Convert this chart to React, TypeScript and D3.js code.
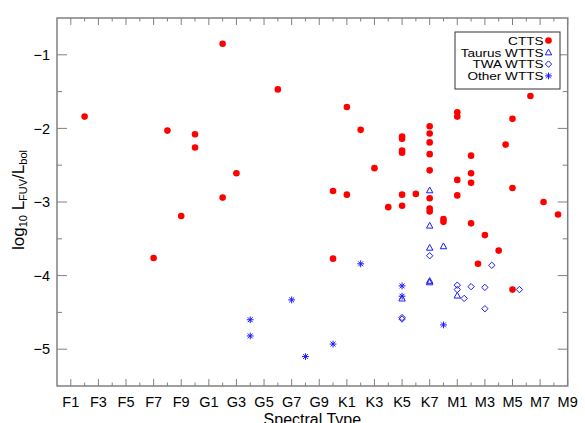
import React, { useEffect, useRef } from 'react';
import * as d3 from 'd3';

// spectral type labels along the bottom axis
const majorTypes = ['F1', 'F3', 'F5', 'F7', 'F9', 'G1', 'G3', 'G5', 'G7', 'G9', 'K1', 'K3', 'K5', 'K7', 'M1', 'M3', 'M5', 'M7', 'M9'];
const minorTypes = ['F2', 'F4', 'F6', 'F8', 'G0', 'G2', 'G4', 'G6', 'G8', 'K0', 'K2', 'K4', 'K6', 'M0', 'M2', 'M4', 'M6', 'M8'];
const yMajor = [-5, -4, -3, -2, -1];
const yMinor = [-4.5, -3.5, -2.5, -1.5];

// [spectral type, log10 LFUV/Lbol]
const cttsPoints: [string, number][] = [
  ['F2', -1.84], ['F7', -3.76], ['F8', -2.03], ['F9', -3.19], ['G0', -2.08], ['G0', -2.26],
  ['G2', -0.85], ['G2', -2.94], ['G3', -2.61], ['G6', -1.47], ['K0', -2.85], ['K0', -3.77],
  ['K1', -1.71], ['K1', -2.90], ['K2', -2.02], ['K3', -2.54], ['K4', -3.07],
  ['K5', -2.11], ['K5', -2.14], ['K5', -2.30], ['K5', -2.33], ['K5', -2.90], ['K5', -3.05],
  ['K6', -2.89], ['K7', -1.97], ['K7', -2.07], ['K7', -2.19], ['K7', -2.35], ['K7', -2.57],
  ['K7', -2.95], ['K7', -3.09], ['K7', -3.13], ['M0', -3.23], ['M0', -3.27],
  ['M1', -1.78], ['M1', -1.84], ['M1', -2.70], ['M1', -2.91], ['M2', -2.37], ['M2', -2.61],
  ['M2', -2.74], ['M2', -3.29], ['M2.5', -3.84], ['M3', -3.45], ['M4', -3.66], ['M4.5', -2.22],
  ['M5', -1.87], ['M5', -2.81], ['M5', -4.19], ['M6.3', -1.56], ['M7.25', -3.00], ['M8.3', -3.17],
];
const taurusPoints: [string, number][] = [
  ['K5', -4.31], ['K7', -2.84], ['K7', -3.32], ['K7', -3.62], ['K7', -4.07], ['K7', -4.09],
  ['M0', -3.60], ['M1', -4.27],
];
const twaPoints: [string, number][] = [
  ['K5', -4.57], ['K5', -4.59], ['K7', -3.73], ['M1', -4.13], ['M1', -4.19], ['M1.5', -4.31],
  ['M2', -4.15], ['M3', -4.16], ['M3', -4.45], ['M3.5', -3.86], ['M5.5', -4.19],
];
const otherPoints: [string, number][] = [
  ['G4', -4.60], ['G4', -4.82], ['G7', -4.33], ['G8', -5.10], ['K0', -4.93], ['K2', -3.84],
  ['K5', -4.14], ['K5', -4.28], ['M0', -4.67],
];

const legendItems = ['CTTS', 'Taurus WTTS', 'TWA WTTS', 'Other WTTS'];

const classStart: Record<string, number> = { F: 0, G: 10, K: 20, M: 28 };
const sptValue = (s: string) => classStart[s[0]] + parseFloat(s.slice(1));

const RED = '#ff0000';
const BLUE = '#1a1aff';
const AXIS = '#808080';

type Sel = d3.Selection<SVGGElement, unknown, null, undefined>;

function drawMarker(g: Sel, kind: string, cx: number, cy: number) {
  if (kind === 'CTTS') {
    g.append('circle').attr('cx', cx).attr('cy', cy).attr('r', 3.3).attr('fill', RED);
  } else if (kind === 'Taurus WTTS') {
    const s = 3.2;
    g.append('path')
      .attr('d', `M${cx},${cy - s}L${cx + s},${cy + s * 0.8}L${cx - s},${cy + s * 0.8}Z`)
      .attr('fill', 'none').attr('stroke', BLUE).attr('stroke-width', 1);
  } else if (kind === 'TWA WTTS') {
    const s = 3.2;
    g.append('path')
      .attr('d', `M${cx},${cy - s}L${cx + s},${cy}L${cx},${cy + s}L${cx - s},${cy}Z`)
      .attr('fill', 'none').attr('stroke', BLUE).attr('stroke-width', 1);
  } else {
    const s = 3.4;
    const d = s * 0.72;
    g.append('path')
      .attr('d', `M${cx},${cy - s}V${cy + s}M${cx - s},${cy}H${cx + s}M${cx - d},${cy - d}L${cx + d},${cy + d}M${cx - d},${cy + d}L${cx + d},${cy - d}`)
      .attr('stroke', BLUE).attr('stroke-width', 1).attr('fill', 'none');
  }
}

export default function App() {
  const svgRef = useRef<SVGSVGElement>(null);

  useEffect(() => {
    const svg = d3.select(svgRef.current);
    svg.selectAll('*').remove();

    const left = 57, right = 567.7, top = 18, bottom = 386;

    const x = d3.scaleLinear().domain([0, 37]).range([left, right]);
    const y = d3.scaleLinear().domain([-5.5, -0.5]).range([bottom, top]);

    const font = "'Liberation Sans', Arial, Helvetica, sans-serif";
    const g = svg.append('g') as unknown as Sel;

    // ticks on all four sides, pointing inwards
    const ticks = g.append('g').attr('stroke', AXIS).attr('stroke-width', 1);
    majorTypes.forEach(t => {
      const px = x(sptValue(t));
      ticks.append('line').attr('x1', px).attr('x2', px).attr('y1', bottom).attr('y2', bottom - 7);
      ticks.append('line').attr('x1', px).attr('x2', px).attr('y1', top).attr('y2', top + 7);
    });
    minorTypes.forEach(t => {
      const px = x(sptValue(t));
      ticks.append('line').attr('x1', px).attr('x2', px).attr('y1', bottom).attr('y2', bottom - 3.5);
      ticks.append('line').attr('x1', px).attr('x2', px).attr('y1', top).attr('y2', top + 3.5);
    });
    yMajor.forEach(v => {
      const py = y(v);
      ticks.append('line').attr('x1', left).attr('x2', left + 10).attr('y1', py).attr('y2', py);
      ticks.append('line').attr('x1', right).attr('x2', right - 10).attr('y1', py).attr('y2', py);
    });
    yMinor.forEach(v => {
      const py = y(v);
      ticks.append('line').attr('x1', left).attr('x2', left + 5).attr('y1', py).attr('y2', py);
      ticks.append('line').attr('x1', right).attr('x2', right - 5).attr('y1', py).attr('y2', py);
    });

    // frame
    g.append('rect')
      .attr('x', left).attr('y', top)
      .attr('width', right - left).attr('height', bottom - top)
      .attr('fill', 'none').attr('stroke', AXIS).attr('stroke-width', 1.5);

    // tick labels
    g.append('g').selectAll('text')
      .data(majorTypes)
      .enter()
      .append('text')
      .attr('x', d => x(sptValue(d)))
      .attr('y', 407)
      .attr('text-anchor', 'middle')
      .attr('font-family', font)
      .attr('font-size', 14.5)
      .attr('fill', '#000')
      .text(d => d);

    g.append('g').selectAll('text')
      .data(yMajor)
      .enter()
      .append('text')
      .attr('x', 50)
      .attr('y', d => y(d) + 5.2)
      .attr('text-anchor', 'end')
      .attr('font-family', font)
      .attr('font-size', 14.5)
      .attr('fill', '#000')
      .text(d => `\u2212${Math.abs(d)}`);

    // axis titles (the reference also clips the x title at the bottom edge)
    g.append('text')
      .attr('x', (left + right) / 2)
      .attr('y', 425)
      .attr('text-anchor', 'middle')
      .attr('font-family', font)
      .attr('font-size', 16)
      .attr('fill', '#000')
      .text('Spectral Type');

    const yl = g.append('text')
      .attr('transform', `translate(24,${(top + bottom) / 2 - 2}) rotate(-90)`)
      .attr('text-anchor', 'middle')
      .attr('font-family', font)
      .attr('font-size', 17)
      .attr('fill', '#000');
    yl.append('tspan').text('log');
    yl.append('tspan').attr('font-size', 11).attr('dy', 3).text('10');
    yl.append('tspan').attr('dy', -3).text(' L');
    yl.append('tspan').attr('font-size', 11).attr('dy', 3).text('FUV');
    yl.append('tspan').attr('dy', -3).text('/L');
    yl.append('tspan').attr('font-size', 11).attr('dy', 3).text('bol');

    // points
    const marks = g.append('g');
    const series: [string, [string, number][]][] = [
      ['CTTS', cttsPoints],
      ['Taurus WTTS', taurusPoints],
      ['TWA WTTS', twaPoints],
      ['Other WTTS', otherPoints],
    ];
    series.forEach(([kind, pts]) => {
      pts.forEach(([s, v]) => drawMarker(marks as unknown as Sel, kind, x(sptValue(s)), y(v)));
    });

    // legend
    const lg = g.append('g');
    lg.append('rect')
      .attr('x', 455).attr('y', 32)
      .attr('width', 105).attr('height', 57)
      .attr('fill', '#fff').attr('stroke', '#333').attr('stroke-width', 1);
    legendItems.forEach((name, i) => {
      const cy = 40.5 + i * 11.8;
      lg.append('text')
        .attr('transform', `translate(543.5,${cy + 4.2}) scale(1.16,1)`)
        .attr('text-anchor', 'end')
        .attr('font-family', font)
        .attr('font-size', 11.7)
        .attr('fill', '#000')
        .text(name);
      drawMarker(lg as unknown as Sel, name, 548.5, cy);
    });
  }, []);

  return (
    <div style={{ position: 'absolute', left: 0, top: 0, width: 585, height: 423, background: '#fff' }}>
      <svg ref={svgRef} width={585} height={423} style={{ display: 'block' }}></svg>
    </div>
  );
}
